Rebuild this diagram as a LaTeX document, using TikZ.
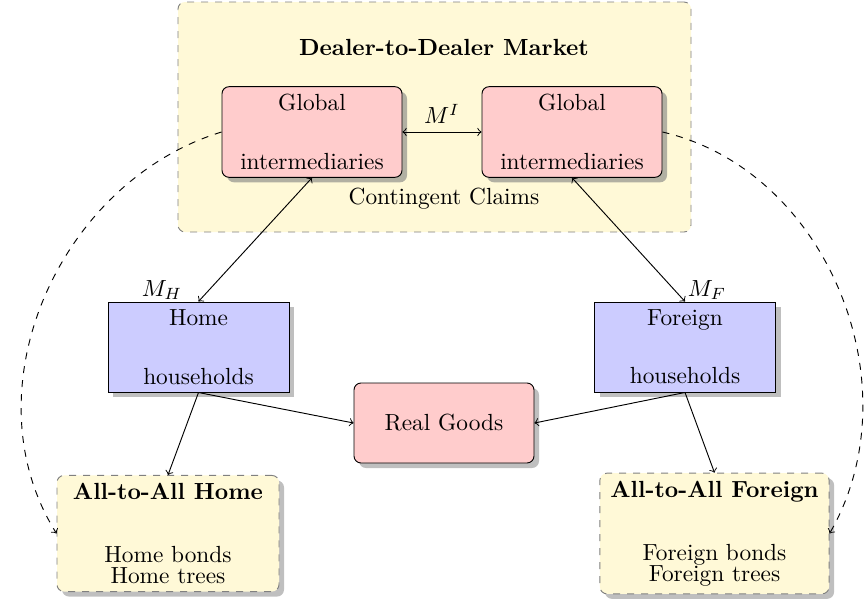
\documentclass[tikz,border=0pt]{standalone}
\usetikzlibrary{shadows}
\definecolor{creamc}{RGB}{255,249,215}
\def\pxu{0.4286pt}
\begin{document}
\begin{tikzpicture}[x=0.4286pt,y=0.4286pt,
  dealerbox/.style={draw=black!50, dashed, fill=creamc, rounded corners=3pt},
  redbox/.style={draw, fill=red!20, rounded corners=3pt, drop shadow={opacity=0.6}, align=center,
    minimum width=180*\pxu, minimum height=90*\pxu},
  bluebox/.style={draw, fill=blue!20, drop shadow, align=center,
    minimum width=181*\pxu, minimum height=90*\pxu},
  goodsbox/.style={draw, fill=red!20, rounded corners=3pt, drop shadow,
    minimum width=180*\pxu, minimum height=80*\pxu},
  aabox/.style={draw=black!50, dashed, fill=creamc, rounded corners=3pt, drop shadow,
    align=center, minimum width=222*\pxu, minimum height=115*\pxu, inner xsep=4.5pt},
  conn/.style={}
]
\useasboundingbox (0,0) rectangle (865,-598);
\node[dealerbox, minimum width=513*\pxu, minimum height=230*\pxu] (dealer) at (434.5,-117) {};
\node[font=\bfseries] (dtitle) at (444,-47.5) {Dealer-to-Dealer Market};
\node[anchor=base] (cc) at (444,-204.5) {Contingent Claims};
\node[redbox] (gl) at (312,-132) {Global\\[13pt]intermediaries};
\node[redbox] (gr) at (572,-132) {Global\\[13pt]intermediaries};
\node[bluebox] (hh) at (198.5,-347) {Home\\[13pt]households};
\node[bluebox] (fh) at (685,-347) {Foreign\\[13pt]households};
\node[goodsbox] (rg) at (444,-423) {Real Goods};
\node[aabox] (ah) at (168,-533.5) {\textbf{All-to-All Home}\\[15pt]Home bonds\\[-3pt]Home trees};
\node[aabox] (af) at (714.5,-533.5) {\textbf{All-to-All Foreign}\\[15pt]Foreign bonds\\[-3pt]Foreign trees};
\draw[<->, conn] (gl.east) -- node[above] (mi) {$M^I$} (gr.west);
\draw[<->, conn] (gl.south) -- (hh.north);
\node (mh) at (162,-290) {$M_H$};
\draw[<->, conn] (gr.south) -- (fh.north);
\node (mf) at (707,-290) {$M_F$};
\draw[->, conn] (hh.south) -- (rg.west);
\draw[->, conn] (fh.south) -- (rg.east);
\draw[->, conn] (hh.south) -- (ah.north);
\draw[->, conn] (fh.south) -- (af.north);
\draw[->, dashed] (gl.west) to[out=197, in=122, looseness=1.0] (ah.west);
\draw[->, dashed] (gr.east) to[out=347, in=60, looseness=1] (af.east);
\end{tikzpicture}
\end{document}
